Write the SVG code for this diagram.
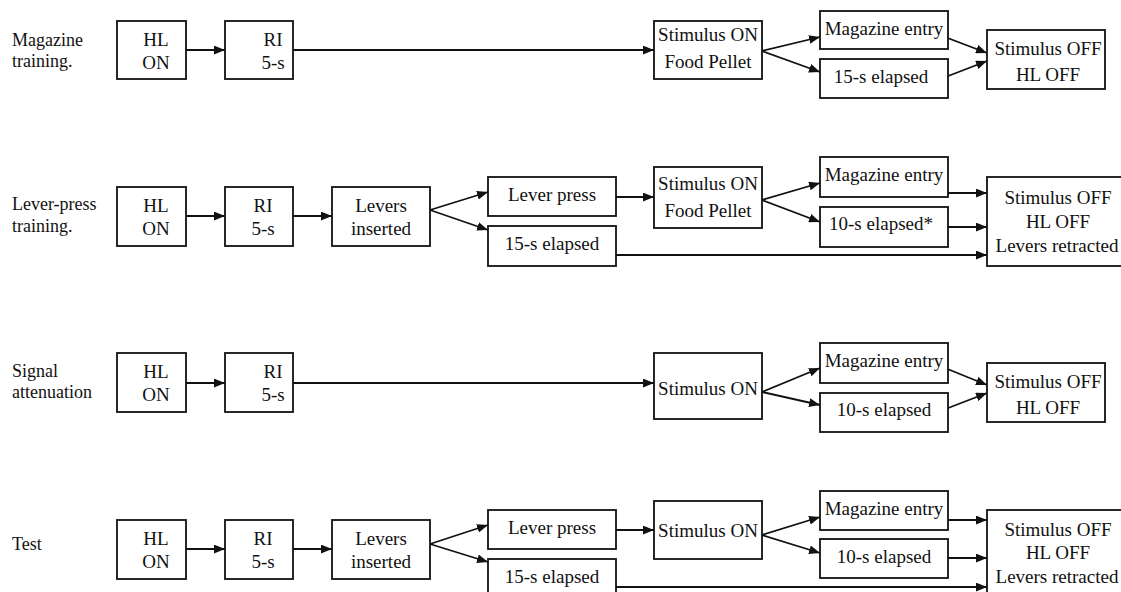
<svg xmlns="http://www.w3.org/2000/svg" width="1121" height="592" viewBox="0 0 1121 592">
<defs>
<style>
.b{fill:#fff;stroke:#111;stroke-width:1.8}
.t{font-family:'Liberation Serif','DejaVu Serif',serif;font-size:19px;fill:#111;text-anchor:middle}
.l{font-family:'Liberation Serif','DejaVu Serif',serif;font-size:18px;fill:#111}
.c{fill:none;stroke:#111;stroke-width:1.8;marker-end:url(#ah)}
</style>
<marker id="ah" viewBox="0 0 10 8" refX="10" refY="4" markerWidth="11" markerHeight="9" orient="auto" markerUnits="userSpaceOnUse">
<path d="M0,0 L10,4 L0,8 z" fill="#111"/>
</marker>
</defs>
<rect width="1121" height="592" fill="#fff"/>

<g id="labels">
<text class="l" x="12" y="46">Magazine</text>
<text class="l" x="12" y="67">training.</text>
<text class="l" x="12" y="210">Lever-press</text>
<text class="l" x="12" y="232">training.</text>
<text class="l" x="12" y="377">Signal</text>
<text class="l" x="12" y="398">attenuation</text>
<text class="l" x="12" y="550">Test</text>
</g>

<g id="connectors">
<line class="c" x1="186" y1="50" x2="225" y2="50"/>
<line class="c" x1="293" y1="50" x2="654" y2="50"/>
<line class="c" x1="762" y1="51" x2="820" y2="37"/>
<line class="c" x1="762" y1="51" x2="820" y2="72"/>
<line class="c" x1="945" y1="37" x2="987" y2="53"/>
<line class="c" x1="943" y1="78" x2="987" y2="61"/>
<line class="c" x1="186" y1="216" x2="225" y2="216"/>
<line class="c" x1="293" y1="216" x2="332" y2="216"/>
<line class="c" x1="430" y1="210" x2="488" y2="192"/>
<line class="c" x1="430" y1="210" x2="488" y2="230"/>
<line class="c" x1="616" y1="197" x2="654" y2="197"/>
<line class="c" x1="616" y1="255" x2="987" y2="255"/>
<line class="c" x1="762" y1="200" x2="820" y2="183"/>
<line class="c" x1="762" y1="200" x2="820" y2="222"/>
<line class="c" x1="948" y1="193" x2="987" y2="193"/>
<line class="c" x1="948" y1="227" x2="987" y2="227"/>
<line class="c" x1="186" y1="383" x2="225" y2="383"/>
<line class="c" x1="293" y1="383" x2="654" y2="383"/>
<line class="c" x1="762" y1="392" x2="820" y2="368"/>
<line class="c" x1="762" y1="392" x2="820" y2="405"/>
<line class="c" x1="945" y1="368" x2="987" y2="385"/>
<line class="c" x1="943" y1="410" x2="987" y2="393"/>
<line class="c" x1="186" y1="549" x2="225" y2="549"/>
<line class="c" x1="293" y1="549" x2="332" y2="549"/>
<line class="c" x1="430" y1="544" x2="488" y2="525"/>
<line class="c" x1="430" y1="544" x2="488" y2="562"/>
<line class="c" x1="616" y1="530" x2="654" y2="530"/>
<line class="c" x1="616" y1="587" x2="987" y2="587"/>
<line class="c" x1="762" y1="535" x2="820" y2="517"/>
<line class="c" x1="762" y1="535" x2="820" y2="553"/>
<line class="c" x1="948" y1="520" x2="987" y2="520"/>
<line class="c" x1="948" y1="558" x2="987" y2="558"/>
</g>

<g id="r1-hl"><rect class="b" x="117" y="21" width="69" height="58"/><text class="t" x="156" y="46">HL</text><text class="t" x="156" y="69">ON</text></g>
<g id="r1-ri"><rect class="b" x="225" y="21" width="68" height="58"/><text class="t" x="273" y="46">RI</text><text class="t" x="273" y="69">5-s</text></g>
<g id="r1-stim"><rect class="b" x="654" y="21" width="108" height="58"/><text class="t" x="708" y="41">Stimulus ON</text><text class="t" x="708" y="68">Food Pellet</text></g>
<g id="r1-mag"><rect class="b" x="820" y="11" width="128" height="38"/><text class="t" x="884" y="35">Magazine entry</text></g>
<g id="r1-el"><rect class="b" x="820" y="59" width="128" height="39"/><text class="t" x="881" y="83">15-s elapsed</text></g>
<g id="r1-off"><rect class="b" x="987" y="30" width="118" height="59"/><text class="t" x="1048" y="55">Stimulus OFF</text><text class="t" x="1048" y="81">HL OFF</text></g>

<g id="r2-hl"><rect class="b" x="117" y="187" width="69" height="59"/><text class="t" x="156" y="212">HL</text><text class="t" x="156" y="235">ON</text></g>
<g id="r2-ri"><rect class="b" x="225" y="187" width="68" height="59"/><text class="t" x="263" y="212">RI</text><text class="t" x="263" y="235">5-s</text></g>
<g id="r2-lev"><rect class="b" x="332" y="187" width="98" height="59"/><text class="t" x="381" y="212">Levers</text><text class="t" x="381" y="235">inserted</text></g>
<g id="r2-press"><rect class="b" x="488" y="177" width="128" height="39"/><text class="t" x="552" y="201">Lever press</text></g>
<g id="r2-el15"><rect class="b" x="488" y="226" width="128" height="40"/><text class="t" x="552" y="250">15-s elapsed</text></g>
<g id="r2-stim"><rect class="b" x="654" y="167" width="108" height="61"/><text class="t" x="708" y="190">Stimulus ON</text><text class="t" x="708" y="217">Food Pellet</text></g>
<g id="r2-mag"><rect class="b" x="820" y="157" width="128" height="40"/><text class="t" x="884" y="181">Magazine entry</text></g>
<g id="r2-el10"><rect class="b" x="820" y="207" width="128" height="40"/><text class="t" x="881" y="230">10-s elapsed*</text></g>
<g id="r2-off"><rect class="b" x="987" y="177" width="150" height="89"/><text class="t" x="1058" y="204">Stimulus OFF</text><text class="t" x="1058" y="228">HL OFF</text><text class="t" x="1057" y="252">Levers retracted</text></g>

<g id="r3-hl"><rect class="b" x="117" y="353" width="69" height="59"/><text class="t" x="156" y="378">HL</text><text class="t" x="156" y="401">ON</text></g>
<g id="r3-ri"><rect class="b" x="225" y="353" width="68" height="59"/><text class="t" x="273" y="378">RI</text><text class="t" x="273" y="401">5-s</text></g>
<g id="r3-stim"><rect class="b" x="654" y="353" width="108" height="66"/><text class="t" x="708" y="395">Stimulus ON</text></g>
<g id="r3-mag"><rect class="b" x="820" y="343" width="128" height="40"/><text class="t" x="884" y="367">Magazine entry</text></g>
<g id="r3-el"><rect class="b" x="820" y="393" width="128" height="39"/><text class="t" x="884" y="416">10-s elapsed</text></g>
<g id="r3-off"><rect class="b" x="987" y="363" width="118" height="59"/><text class="t" x="1048" y="388">Stimulus OFF</text><text class="t" x="1048" y="414">HL OFF</text></g>

<g id="r4-hl"><rect class="b" x="117" y="520" width="69" height="59"/><text class="t" x="156" y="545">HL</text><text class="t" x="156" y="568">ON</text></g>
<g id="r4-ri"><rect class="b" x="225" y="520" width="68" height="59"/><text class="t" x="263" y="545">RI</text><text class="t" x="263" y="568">5-s</text></g>
<g id="r4-lev"><rect class="b" x="332" y="520" width="98" height="59"/><text class="t" x="381" y="545">Levers</text><text class="t" x="381" y="568">inserted</text></g>
<g id="r4-press"><rect class="b" x="488" y="510" width="128" height="39"/><text class="t" x="552" y="534">Lever press</text></g>
<g id="r4-el15"><rect class="b" x="488" y="559" width="128" height="45"/><text class="t" x="552" y="583">15-s elapsed</text></g>
<g id="r4-stim"><rect class="b" x="654" y="501" width="108" height="58"/><text class="t" x="708" y="537">Stimulus ON</text></g>
<g id="r4-mag"><rect class="b" x="820" y="491" width="128" height="39"/><text class="t" x="884" y="515">Magazine entry</text></g>
<g id="r4-el10"><rect class="b" x="820" y="539" width="128" height="39"/><text class="t" x="884" y="563">10-s elapsed</text></g>
<g id="r4-off"><rect class="b" x="987" y="510" width="150" height="95"/><text class="t" x="1058" y="536">Stimulus OFF</text><text class="t" x="1058" y="559">HL OFF</text><text class="t" x="1057" y="583">Levers retracted</text></g>
</svg>
